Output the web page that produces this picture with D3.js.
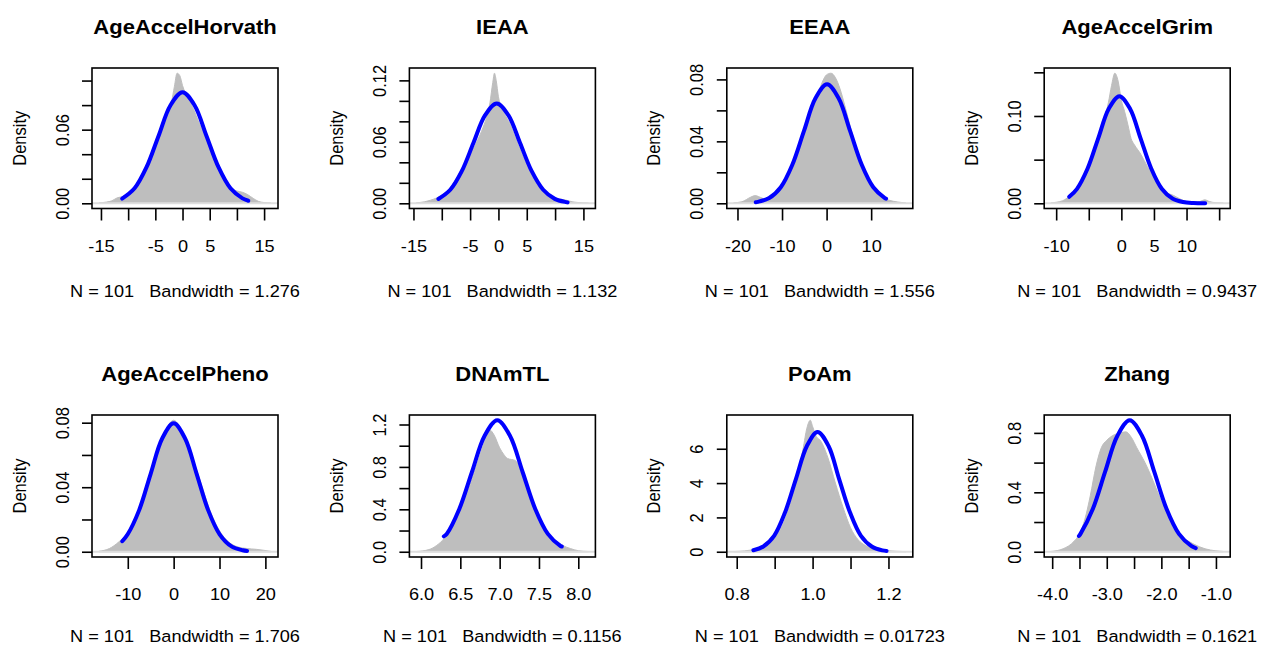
<!DOCTYPE html>
<html lang="en">
<head>
    <meta charset="UTF-8">
    <title>Density plots</title>
    <script src="https://d3js.org/d3.v7.min.js"></script>
    <style>
        body { margin: 0; background: #fff; }
        svg text { font-family: 'Liberation Sans', Arial, sans-serif; fill: #000; }
    </style>
</head>
<body>
<div id="chart"></div>
<script>
// panel titles and bandwidths (N is 101 everywhere)
const titles = ["AgeAccelHorvath", "IEAA", "EEAA", "AgeAccelGrim",
                "AgeAccelPheno", "DNAmTL", "PoAm", "Zhang"];
const bandwidths = ["1.276", "1.132", "1.556", "0.9437", "1.706", "0.1156", "0.01723", "0.1621"];
const sampleN = 101;

// gray kernel density, [x, density]
const horvathDensity = [[-15.38,0.0003],[-14,0.001],[-13,0.002],[-12,0.0045],[-11,0.0055],[-10,0.008],[-9,0.012],[-8,0.017],[-7,0.023],[-6,0.032],[-5,0.043],[-4,0.056],[-3,0.068],[-2,0.083],[-1.5,0.095],[-1,0.106],[-0.5,0.104],[0,0.096],[0.5,0.090],[1,0.086],[2,0.077],[3,0.066],[4,0.056],[5,0.045],[6,0.034],[7,0.025],[8,0.017],[9,0.012],[10,0.010],[11,0.009],[12,0.007],[13,0.004],[14,0.0015],[15,0.0006],[16.29,0.0002]];
const ieaaDensity = [[-14.5,0.0005],[-13,0.0015],[-12,0.003],[-11,0.005],[-10,0.008],[-9,0.012],[-8,0.019],[-7,0.028],[-6,0.038],[-5,0.047],[-4,0.058],[-3,0.070],[-2,0.086],[-1.5,0.098],[-1,0.118],[-0.7,0.127],[-0.4,0.120],[0,0.104],[0.5,0.094],[1,0.088],[2,0.078],[3,0.064],[4,0.050],[5,0.037],[6,0.026],[7,0.017],[8,0.011],[9,0.007],[10,0.005],[11,0.004],[12,0.003],[13,0.0015],[14,0.0008],[15.9,0.0002]];
const eeaaDensity = [[-20.85,0.0003],[-19,0.001],[-17,0.004],[-16,0.005],[-15,0.004],[-14,0.003],[-13,0.004],[-12,0.006],[-10,0.012],[-8,0.022],[-6,0.036],[-4,0.053],[-2,0.070],[-1,0.078],[0,0.083],[1,0.084],[2,0.081],[3,0.074],[4,0.064],[5,0.053],[6,0.042],[7,0.032],[8,0.023],[9,0.016],[10,0.011],[11,0.007],[12,0.005],[13,0.003],[14,0.002],[16,0.0008],[17.8,0.0002]];
const grimDensity = [[-10.78,0.0005],[-9,0.003],[-8,0.008],[-7,0.016],[-6,0.028],[-5,0.045],[-4,0.065],[-3,0.088],[-2,0.115],[-1.5,0.135],[-1,0.149],[-0.5,0.140],[0,0.118],[0.5,0.105],[1,0.090],[1.5,0.074],[2,0.067],[3,0.056],[4,0.042],[5,0.030],[6,0.019],[7,0.012],[8,0.009],[9,0.005],[10,0.002],[11,0.0015],[12,0.002],[12.8,0.004],[13.5,0.002],[14.5,0.0006],[15.64,0.0002]];
const phenoDensity = [[-16.3,0.0003],[-14,0.002],[-12,0.006],[-10,0.012],[-8,0.023],[-6,0.038],[-4,0.055],[-2,0.072],[-1,0.079],[0,0.0815],[1,0.079],[2,0.073],[4,0.059],[6,0.042],[8,0.025],[10,0.013],[12,0.006],[14,0.003],[16,0.002],[18,0.0015],[21.25,0.0002]];
const dnamtlDensity = [[5.94,0.002],[6.1,0.02],[6.2,0.06],[6.3,0.13],[6.4,0.25],[6.5,0.40],[6.6,0.58],[6.7,0.80],[6.8,1.02],[6.87,1.15],[6.93,1.10],[7.0,0.98],[7.05,0.92],[7.1,0.88],[7.2,0.86],[7.25,0.80],[7.3,0.70],[7.4,0.50],[7.5,0.32],[7.6,0.19],[7.7,0.11],[7.8,0.06],[7.9,0.03],[8.0,0.01],[8.13,0.002]];
const poamDensity = [[0.792,0.01],[0.82,0.05],[0.85,0.15],[0.88,0.35],[0.90,0.8],[0.92,1.5],[0.94,2.7],[0.96,4.3],[0.975,6.0],[0.985,7.2],[0.994,7.66],[1.0,7.3],[1.01,6.7],[1.02,6.5],[1.04,5.5],[1.06,4.0],[1.08,2.6],[1.10,1.4],[1.12,0.7],[1.14,0.35],[1.16,0.18],[1.18,0.10],[1.20,0.06],[1.22,0.03],[1.246,0.005]];
const zhangDensity = [[-4.02,0.002],[-3.8,0.02],[-3.6,0.07],[-3.5,0.12],[-3.4,0.22],[-3.3,0.38],[-3.2,0.57],[-3.1,0.70],[-3.0,0.75],[-2.9,0.78],[-2.75,0.80],[-2.65,0.807],[-2.55,0.77],[-2.45,0.70],[-2.3,0.60],[-2.2,0.52],[-2.1,0.43],[-2.0,0.34],[-1.9,0.25],[-1.8,0.17],[-1.7,0.12],[-1.6,0.09],[-1.5,0.07],[-1.4,0.05],[-1.2,0.02],[-1.0,0.006],[-0.865,0.002]];

// blue fitted normal curves, [x, density]
const horvathNormal = [[-11.1,0.0038],[-8.82,0.0122],[-6.62,0.0294],[-4.41,0.0549],[-2.21,0.0799],[0,0.0905],[2.21,0.0799],[4.41,0.0549],[6.62,0.0294],[8.82,0.0122],[11.03,0.0040],[12.1,0.0021]];
const ieaaNormal = [[-10.6,0.0042],[-8.5,0.0132],[-6.45,0.0316],[-4.4,0.0591],[-2.35,0.0860],[-0.3,0.0974],[1.75,0.0860],[3.8,0.0591],[5.85,0.0316],[7.9,0.0132],[9.95,0.0043],[12.0,0.0011],[12.2,0.0009]];
const eeaaNormal = [[-15.9,0.0007],[-15.47,0.0009],[-12.88,0.0034],[-10.28,0.0104],[-7.69,0.0249],[-5.09,0.0466],[-2.5,0.0678],[0.1,0.0768],[2.7,0.0678],[5.29,0.0466],[7.89,0.0249],[10.48,0.0104],[13.08,0.0034],[13.35,0.0030]];
const grimNormal = [[-8.0,0.0074],[-6.8,0.0166],[-5.18,0.0398],[-3.55,0.0744],[-1.93,0.1083],[-0.3,0.1227],[1.33,0.1083],[2.95,0.0744],[4.58,0.0398],[6.2,0.0166],[7.83,0.0054],[9.45,0.0014],[11.08,0.0003],[12.86,0.0001]];
const phenoNormal = [[-11.2,0.0065],[-10.02,0.0108],[-7.52,0.0258],[-5.01,0.0483],[-2.5,0.0702],[0,0.0796],[2.5,0.0702],[5.01,0.0483],[7.52,0.0258],[10.02,0.0108],[12.53,0.0035],[15.03,0.0009],[16.0,0.0005]];
const dnamtlNormal = [[6.29,0.145],[6.327,0.168],[6.487,0.403],[6.648,0.752],[6.809,1.094],[6.97,1.24],[7.131,1.094],[7.292,0.752],[7.453,0.403],[7.613,0.168],[7.774,0.054],[7.79,0.049]];
const poamNormal = [[0.844,0.087],[0.870,0.306],[0.899,0.944],[0.927,2.266],[0.956,4.233],[0.985,6.160],[1.013,6.98],[1.042,6.160],[1.070,4.233],[1.099,2.266],[1.127,0.944],[1.156,0.306],[1.184,0.077],[1.195,0.049]];
const zhangNormal = [[-3.51,0.106],[-3.482,0.120],[-3.256,0.287],[-3.031,0.537],[-2.805,0.781],[-2.58,0.885],[-2.355,0.781],[-2.129,0.537],[-1.904,0.287],[-1.678,0.120],[-1.453,0.039],[-1.37,0.024]];

// axis ticks, with "" where R dropped the label
const xTicks = [[-15,-10,-5,0,5,10,15],[-15,-10,-5,0,5,10,15],[-20,-10,0,10],[-10,-5,0,5,10,15],
                [-10,0,10,20],[6,6.5,7,7.5,8],[0.8,0.9,1.0,1.1,1.2],[-4,-3.5,-3,-2.5,-2,-1.5,-1]];
const xLabels = [["-15","","-5","0","5","","15"],["-15","","-5","0","5","","15"],["-20","-10","0","10"],["-10","","0","5","10",""],
                 ["-10","0","10","20"],["6.0","6.5","7.0","7.5","8.0"],["0.8","","1.0","","1.2"],["-4.0","","-3.0","","-2.0","","-1.0"]];
const yTicks = [[0,0.02,0.04,0.06,0.08,0.10],[0,0.02,0.04,0.06,0.08,0.10,0.12],[0,0.02,0.04,0.06,0.08],[0,0.05,0.10,0.15],
                [0,0.02,0.04,0.06,0.08],[0,0.2,0.4,0.6,0.8,1.0,1.2],[0,2,4,6],[0,0.2,0.4,0.6,0.8]];
const yLabels = [["0.00","","","0.06","",""],["0.00","","","0.06","","","0.12"],["0.00","","0.04","","0.08"],["0.00","","0.10",""],
                 ["0.00","","0.04","","0.08"],["0.0","","0.4","","0.8","","1.2"],["0","2","4","6"],["0.0","","0.4","","0.8"]];

const densities = [horvathDensity, ieaaDensity, eeaaDensity, grimDensity, phenoDensity, dnamtlDensity, poamDensity, zhangDensity];
const normals = [horvathNormal, ieaaNormal, eeaaNormal, grimNormal, phenoNormal, dnamtlNormal, poamNormal, zhangNormal];

const W = 1267, H = 646;
const boxW = 186;
const rowTop = [68, 415], rowBottom = [208.5, 557];
const subOffset = [88, 84.5];   // baseline of the N / Bandwidth line under the box
const stretch = 1.1;   // text in the picture is a bit wide

const svg = d3.select("#chart").append("svg")
    .attr("width", W).attr("height", H);

titles.forEach((title, i) => {
    const col = i % 4, row = Math.floor(i / 4);
    const left = 92 + col * 317.4;
    const top = rowTop[row], bottom = rowBottom[row];
    const cx = left + boxW / 2;

    const dens = densities[i], norm = normals[i];
    const xr = d3.extent(dens, d => d[0]);
    const pad = (xr[1] - xr[0]) * 0.04;
    const ymax = d3.max(dens.concat(norm), d => d[1]);

    const x = d3.scaleLinear().domain([xr[0] - pad, xr[1] + pad]).range([left, left + boxW]);
    const y = d3.scaleLinear().domain([-0.04 * ymax, 1.04 * ymax]).range([bottom, top]);

    const g = svg.append("g");

    // gray density
    const area = d3.area().x(d => x(d[0])).y0(y(0)).y1(d => y(d[1])).curve(d3.curveMonotoneX);
    g.append("path").datum(dens)
        .attr("d", area)
        .attr("fill", "#bebebe")
        .attr("stroke", "#bebebe")
        .attr("stroke-width", 1);

    // zero line
    g.append("line")
        .attr("x1", left).attr("x2", left + boxW)
        .attr("y1", y(0)).attr("y2", y(0))
        .attr("stroke", "#dedede").attr("stroke-width", 2);

    // blue normal curve
    const line = d3.line().x(d => x(d[0])).y(d => y(d[1])).curve(d3.curveCatmullRom);
    g.append("path").datum(norm)
        .attr("d", line)
        .attr("fill", "none")
        .attr("stroke", "#0000ff")
        .attr("stroke-width", 4)
        .attr("stroke-linecap", "round")
        .attr("stroke-linejoin", "round");

    // box
    g.append("rect")
        .attr("x", left).attr("y", top)
        .attr("width", boxW).attr("height", bottom - top)
        .attr("fill", "none").attr("stroke", "#000").attr("stroke-width", 1.6);

    // x axis
    const xa = g.append("g")
        .attr("transform", `translate(0,${bottom})`)
        .call(d3.axisBottom(x).tickValues(xTicks[i]).tickSize(12)
            .tickFormat((d, k) => xLabels[i][k]));
    xa.select(".domain").remove();
    xa.selectAll(".tick line").attr("stroke", "#000").attr("stroke-width", 1.6);
    xa.selectAll(".tick text")
        .attr("y", 0).attr("dy", 0)
        .attr("transform", `translate(0,43) scale(${stretch},1)`)
        .style("font-size", "16.5px").attr("fill", "#000");

    // y axis
    const ya = g.append("g")
        .attr("transform", `translate(${left},0)`)
        .call(d3.axisLeft(y).tickValues(yTicks[i]).tickSize(10)
            .tickFormat((d, k) => yLabels[i][k]));
    ya.select(".domain").remove();
    ya.selectAll(".tick line").attr("stroke", "#000").attr("stroke-width", 1.6);
    ya.selectAll(".tick text")
        .attr("x", 0).attr("dy", 0)
        .attr("text-anchor", "middle")
        .attr("transform", `translate(-23.5,0) scale(${stretch},1) rotate(-90)`)
        .style("font-size", "16.5px").attr("fill", "#000");

    // y title
    g.append("text")
        .attr("transform", `translate(${left - 66.5},${(top + bottom) / 2}) scale(${stretch},1) rotate(-90)`)
        .attr("text-anchor", "middle")
        .style("font-size", "16.5px")
        .text("Density");

    // main title
    g.append("text")
        .attr("transform", `translate(${cx},${top - 34.5}) scale(${stretch},1)`)
        .attr("text-anchor", "middle")
        .style("font-size", "20px").style("font-weight", "bold")
        .text(title);

    // sub label
    g.append("text")
        .attr("transform", `translate(${cx},${bottom + subOffset[row]}) scale(${stretch},1)`)
        .attr("text-anchor", "middle")
        .style("font-size", "16.5px").style("white-space", "pre")
        .text(`N = ${sampleN}   Bandwidth = ${bandwidths[i]}`);
});
</script>
</body>
</html>
